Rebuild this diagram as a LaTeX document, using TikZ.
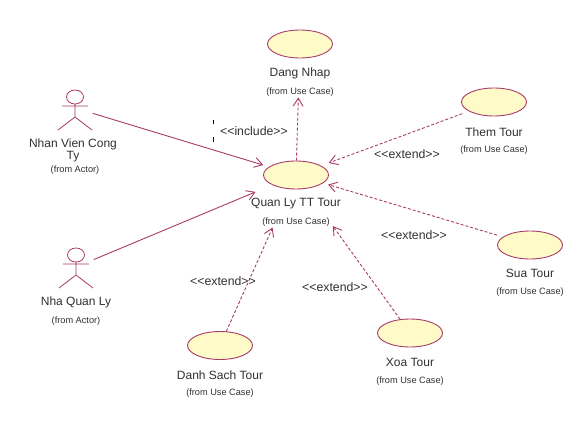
\documentclass[tikz,border=0pt]{standalone}
\usepackage{fontspec}
\setmainfont{Liberation Sans}
\usetikzlibrary{arrows.meta,shapes.geometric}
\definecolor{umlline}{HTML}{A83A66}
\definecolor{umlfill}{HTML}{FFFBC8}
\definecolor{umltext}{HTML}{303030}
\tikzset{
  usecase/.style={ellipse,draw=umlline,fill=umlfill,line width=0.9pt,minimum width=65pt,minimum height=28pt,inner sep=0pt},
  nametext/.style={text=umltext,font=\fontsize{12}{12.6}\selectfont,align=center,inner sep=0pt},
  fromtext/.style={text=umltext,font=\fontsize{9.2}{10}\selectfont,inner sep=0pt},
  stereo/.style={text=umltext,font=\fontsize{12.3}{13}\selectfont,inner sep=0pt},
  actorbox/.style={inner sep=0pt,minimum width=35pt,minimum height=45pt},
  assoc/.style={draw=umlline,line width=0.9pt,-{Straight Barb[length=8pt,width=10pt]}},
  depend/.style={assoc,dash pattern=on 3pt off 2pt},
  stickman/.pic={
    \draw[umlline,line width=0.8pt]
      (0,-11) ellipse [x radius=8.5,y radius=7]
      (0,-4) -- (0,9)
      (-13,-2) -- (13,-2)
      (-17,22) -- (0,9) -- (17,22);
  }
}
\begin{document}
\begin{tikzpicture}[x=1pt,y=-1pt]
\useasboundingbox (0,0) rectangle (583,425);
% use cases
\node[usecase] (d) at (300,44) {};
\node[usecase] (q) at (296,175) {};
\node[usecase] (t) at (494,102) {};
\node[usecase] (s) at (530,245) {};
\node[usecase] (l) at (220,345.5) {};
\node[usecase] (x) at (410,333) {};
\node[nametext] (dn) at (300,73.8) {Dang Nhap};
\node[fromtext] (df) at (300,91.8) {(from Use Case)};
\node[nametext] (qn) at (296,203.8) {Quan Ly TT Tour};
\node[fromtext] (qf) at (296,221.8) {(from Use Case)};
\node[nametext] (tn) at (494,131.8) {Them Tour};
\node[fromtext] (tf) at (494,149.8) {(from Use Case)};
\node[nametext] (sn) at (530,273.8) {Sua Tour};
\node[fromtext] (sf) at (530,291.8) {(from Use Case)};
\node[nametext] (ln) at (220,374.8) {Danh Sach Tour};
\node[fromtext] (lf) at (220,392.8) {(from Use Case)};
\node[nametext] (xn) at (410,362.8) {Xoa Tour};
\node[fromtext] (xf) at (410,380.8) {(from Use Case)};
% actors
\node[actorbox] (a) at (75,108) {};
\pic at (75,108) {stickman};
\node[actorbox] (b) at (76,267) {};
\pic at (76,266) {stickman};
\node[nametext] (an) at (73,150.5) {Nhan Vien Cong\\Ty};
\node[fromtext] (af) at (75,169.8) {(from Actor)};
\node[nametext] (bn) at (76,302.8) {Nha Quan Ly};
\node[fromtext] (bf) at (76,320.8) {(from Actor)};
% connectors
\draw[assoc,shorten >=6pt] (a) -- (q);
\draw[assoc,shorten >=18pt] (b) -- (q);
\draw[depend,shorten >=39pt] (q) -- (d);
\draw[depend,shorten <=7pt,shorten >=8pt] (t) -- (q);
\draw[depend,shorten <=6pt,shorten >=5pt] (s) -- (q);
\draw[depend,shorten >=42pt] (l) -- (q);
\draw[depend,shorten >=46pt] (x) -- (q);
% stereotypes
\node[stereo] (inc) at (254,131.5) {<{}<include>{}>};
\node[stereo] (e1) at (407,154.5) {<{}<extend>{}>};
\node[stereo] (e2) at (414,235.5) {<{}<extend>{}>};
\node[stereo] (e3) at (335,287.5) {<{}<extend>{}>};
\node[stereo] (e4) at (223,281.5) {<{}<extend>{}>};
% stray tick marks
\draw[black,line width=0.9pt] (213,120) -- (213,124) (213,137) -- (213,141.5);
\end{tikzpicture}
\end{document}
